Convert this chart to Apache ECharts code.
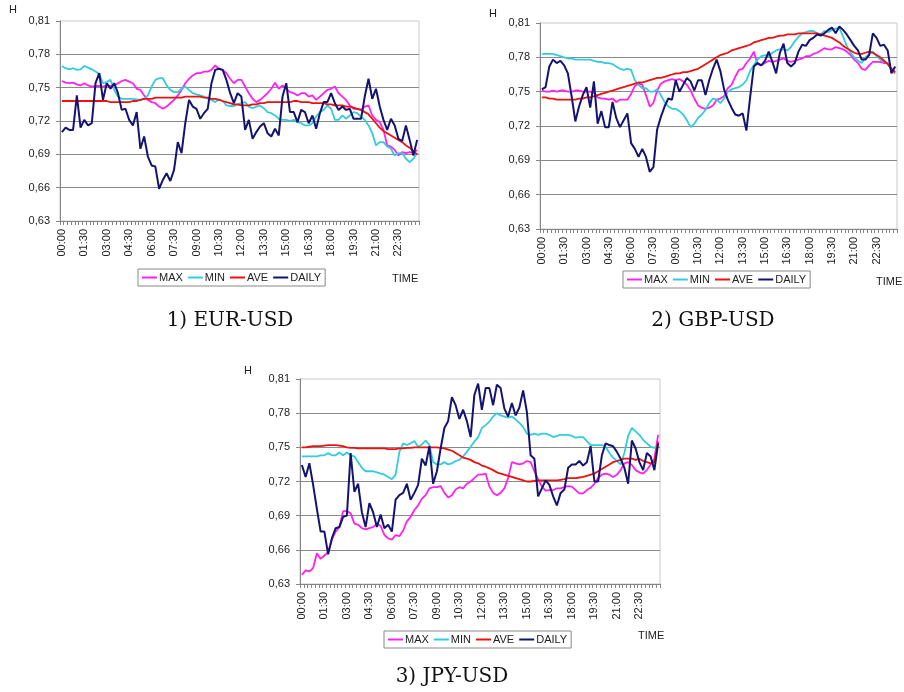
<!DOCTYPE html>
<html>
<head>
<meta charset="utf-8">
<script src="https://cdn.jsdelivr.net/npm/echarts@6/dist/echarts.min.js"></script>
<style>
html,body{margin:0;padding:0;background:#fff;}
#c{width:904px;height:692px;}
</style>
</head>
<body>
<div id="c"></div>
<script>
var times = ['00:00','00:15','00:30','00:45','01:00','01:15','01:30','01:45','02:00','02:15','02:30','02:45',
'03:00','03:15','03:30','03:45','04:00','04:15','04:30','04:45','05:00','05:15','05:30','05:45',
'06:00','06:15','06:30','06:45','07:00','07:15','07:30','07:45','08:00','08:15','08:30','08:45',
'09:00','09:15','09:30','09:45','10:00','10:15','10:30','10:45','11:00','11:15','11:30','11:45',
'12:00','12:15','12:30','12:45','13:00','13:15','13:30','13:45','14:00','14:15','14:30','14:45',
'15:00','15:15','15:30','15:45','16:00','16:15','16:30','16:45','17:00','17:15','17:30','17:45',
'18:00','18:15','18:30','18:45','19:00','19:15','19:30','19:45','20:00','20:15','20:30','20:45',
'21:00','21:15','21:30','21:45','22:00','22:15','22:30','22:45','23:00','23:15','23:30','23:45'];

var yTicks = [0.63, 0.66, 0.69, 0.72, 0.75, 0.78, 0.81];
var seriesNames = ['MAX','MIN','AVE','DAILY'];
var captions = ['1) EUR-USD','2) GBP-USD','3) JPY-USD'];

// 1) EUR-USD
var eurMax = [0.756,0.7545,0.754,0.7545,0.753,0.752,0.754,0.752,0.751,0.7515,
0.7515,0.751,0.752,0.7515,0.752,0.754,0.756,0.757,0.7555,0.754,
0.749,0.748,0.743,0.739,0.737,0.736,0.733,0.731,0.733,0.736,
0.739,0.743,0.748,0.754,0.758,0.761,0.763,0.763,0.7645,0.7645,
0.766,0.770,0.767,0.766,0.763,0.758,0.754,0.757,
0.757,0.751,0.745,0.740,0.737,0.739,0.742,0.745,0.749,0.7545,
0.749,0.752,0.749,0.746,0.745,0.743,0.745,0.745,0.742,0.743,
0.739,0.742,0.745,0.748,0.749,0.751,0.745,0.742,0.739,0.734,
0.731,0.731,0.730,0.733,0.734,0.725,0.721,0.719,0.712,0.698,
0.697,0.694,0.689,0.692,0.691,0.692,0.691,0.694];
var eurMin = [0.7695,0.7675,0.7665,0.7675,0.766,0.7665,0.7695,0.768,0.7665,0.7645,
0.762,0.754,0.755,0.757,0.748,0.742,0.740,0.740,0.740,0.740,
0.7395,0.739,0.740,0.743,0.751,0.757,0.7585,0.7585,0.752,0.748,
0.746,0.746,0.749,0.751,0.748,0.745,0.744,0.743,0.742,0.740,
0.739,0.737,0.7395,0.738,0.734,0.7335,0.7335,0.735,
0.736,0.737,0.733,0.7315,0.733,0.734,0.7315,0.728,0.727,0.725,
0.722,0.721,0.721,0.720,0.721,0.719,0.718,0.716,0.716,0.718,
0.724,0.728,0.730,0.734,0.731,0.721,0.721,0.725,0.722,0.725,
0.728,0.727,0.724,0.721,0.716,0.709,0.698,0.701,0.701,0.697,
0.695,0.689,0.691,0.691,0.686,0.683,0.686,0.691];
var eurAve = [0.738,0.738,0.738,0.738,0.738,0.738,0.738,0.738,0.738,0.738,
0.738,0.738,0.738,0.737,0.737,0.737,0.737,0.737,0.737,0.738,
0.738,0.739,0.740,0.740,0.740,0.741,0.741,0.741,0.741,0.741,
0.741,0.741,0.741,0.742,0.742,0.742,0.742,0.742,0.741,0.741,
0.740,0.740,0.739,0.738,0.737,0.736,0.735,0.735,
0.734,0.734,0.734,0.735,0.735,0.736,0.736,0.737,0.737,0.737,
0.737,0.737,0.737,0.737,0.738,0.738,0.737,0.737,0.737,0.736,
0.736,0.736,0.736,0.735,0.735,0.734,0.734,0.734,0.733,0.733,
0.732,0.731,0.730,0.728,0.726,0.722,0.718,0.714,0.711,0.709,
0.707,0.705,0.703,0.701,0.698,0.696,0.693,0.690];
var eurDaily = [0.710,0.714,0.712,0.712,0.743,0.714,0.721,0.716,0.718,0.754,
0.763,0.739,0.754,0.749,0.754,0.745,0.730,0.731,0.721,0.716,
0.728,0.695,0.706,0.688,0.680,0.679,0.659,0.667,0.673,0.666,
0.676,0.701,0.691,0.718,0.739,0.733,0.731,0.722,0.727,0.731,
0.754,0.766,0.767,0.766,0.757,0.745,0.736,0.745,
0.742,0.712,0.721,0.704,0.710,0.715,0.718,0.709,0.706,0.713,
0.707,0.742,0.754,0.728,0.728,0.719,0.730,0.728,0.718,0.725,
0.713,0.727,0.737,0.737,0.745,0.736,0.730,0.733,0.730,0.731,
0.722,0.722,0.722,0.742,0.758,0.740,0.749,0.733,0.721,0.712,
0.722,0.716,0.704,0.702,0.716,0.703,0.689,0.703];

// 2) GBP-USD
var gbpMax = [0.751,0.750,0.750,0.751,0.750,0.751,0.751,0.750,0.750,0.751,
0.751,0.750,0.750,0.750,0.749,0.745,0.744,0.744,0.743,0.744,
0.741,0.743,0.743,0.743,0.748,0.755,0.757,0.756,0.747,0.737,
0.740,0.751,0.757,0.759,0.760,0.761,0.760,0.761,0.759,0.756,
0.751,0.744,0.738,0.736,0.735,0.736,0.738,0.743,
0.744,0.746,0.753,0.756,0.763,0.769,0.770,0.775,0.779,0.785,
0.774,0.773,0.775,0.777,0.776,0.777,0.778,0.779,0.777,0.776,
0.777,0.778,0.779,0.781,0.781,0.783,0.784,0.786,0.788,0.787,
0.787,0.789,0.788,0.787,0.785,0.782,0.778,0.775,0.770,0.769,
0.773,0.776,0.776,0.776,0.775,0.775,0.769,0.766];
var gbpMin = [0.783,0.783,0.783,0.783,0.782,0.781,0.780,0.779,0.779,0.778,
0.778,0.778,0.778,0.778,0.777,0.776,0.776,0.775,0.775,0.774,
0.772,0.770,0.769,0.770,0.769,0.760,0.756,0.753,0.753,0.750,
0.750,0.752,0.747,0.741,0.737,0.735,0.735,0.733,0.730,0.725,
0.719,0.722,0.727,0.730,0.734,0.740,0.744,0.743,
0.740,0.744,0.750,0.752,0.753,0.754,0.756,0.760,0.768,0.773,
0.778,0.781,0.782,0.781,0.784,0.786,0.787,0.787,0.786,0.789,
0.794,0.798,0.801,0.802,0.803,0.803,0.801,0.800,0.803,0.802,
0.804,0.805,0.806,0.798,0.790,0.784,0.780,0.777,0.775,0.780,
0.783,0.785,0.781,0.778,0.776,0.775,0.769,0.767];
var gbpAve = [0.745,0.745,0.744,0.744,0.743,0.743,0.743,0.743,0.743,0.743,
0.744,0.744,0.745,0.745,0.746,0.747,0.748,0.749,0.750,0.751,
0.752,0.753,0.754,0.755,0.756,0.757,0.758,0.758,0.759,0.760,
0.761,0.762,0.762,0.763,0.764,0.765,0.766,0.766,0.767,0.767,
0.768,0.769,0.770,0.772,0.774,0.776,0.778,0.780,
0.782,0.783,0.784,0.786,0.787,0.788,0.789,0.790,0.791,0.793,
0.794,0.795,0.796,0.797,0.797,0.798,0.799,0.799,0.800,0.800,
0.800,0.801,0.801,0.801,0.801,0.801,0.801,0.800,0.799,0.798,
0.797,0.795,0.793,0.790,0.788,0.786,0.784,0.783,0.783,0.784,
0.785,0.784,0.782,0.780,0.777,0.774,0.770,0.767];
var gbpDaily = [0.752,0.754,0.772,0.778,0.775,0.777,0.773,0.766,0.746,0.724,
0.737,0.747,0.754,0.736,0.759,0.722,0.733,0.719,0.719,0.741,
0.727,0.719,0.725,0.731,0.705,0.700,0.693,0.700,0.693,0.680,
0.684,0.717,0.728,0.737,0.744,0.743,0.760,0.750,0.756,0.762,
0.759,0.751,0.760,0.760,0.747,0.760,0.770,0.778,
0.768,0.752,0.743,0.736,0.730,0.729,0.731,0.716,0.745,0.772,
0.775,0.773,0.777,0.785,0.776,0.766,0.784,0.792,0.775,0.772,
0.775,0.785,0.791,0.790,0.795,0.797,0.800,0.799,0.801,0.804,
0.806,0.801,0.807,0.804,0.800,0.795,0.790,0.786,0.778,0.778,
0.782,0.801,0.797,0.790,0.791,0.786,0.766,0.772];

// 3) JPY-USD
var jpyMax = [0.638,0.642,0.641,0.644,0.657,0.652,0.655,0.658,0.669,0.676,
0.680,0.694,0.694,0.692,0.683,0.682,0.679,0.678,0.679,0.680,
0.683,0.681,0.673,0.670,0.669,0.673,0.672,0.677,0.685,0.689,
0.695,0.699,0.705,0.708,0.714,0.715,0.715,0.716,0.710,0.706,
0.708,0.713,0.715,0.714,0.718,0.720,0.723,0.726,
0.726,0.727,0.7155,0.710,0.708,0.710,0.714,0.723,0.737,0.736,
0.735,0.736,0.738,0.737,0.729,0.722,0.7155,0.712,0.7125,0.7125,
0.714,0.714,0.715,0.716,0.7155,0.7125,0.7095,0.7095,0.7125,0.7145,
0.718,0.723,0.726,0.727,0.726,0.724,0.726,0.730,0.736,0.737,
0.7345,0.730,0.728,0.727,0.730,0.735,0.740,0.761];
var jpyMin = [0.742,0.742,0.742,0.742,0.742,0.743,0.743,0.745,0.743,0.743,
0.7455,0.743,0.7455,0.743,0.742,0.737,0.732,0.729,0.729,0.729,
0.728,0.727,0.726,0.724,0.722,0.726,0.746,0.7535,0.752,0.7535,
0.7555,0.7505,0.7525,0.756,0.752,0.737,0.735,0.735,0.737,0.735,
0.736,0.738,0.739,0.742,0.746,0.7505,0.755,0.759,
0.767,0.7695,0.7725,0.777,0.780,0.778,0.777,0.776,0.777,0.7745,
0.7715,0.768,0.762,0.761,0.762,0.761,0.762,0.762,0.761,0.759,
0.760,0.761,0.761,0.761,0.760,0.7585,0.759,0.759,0.7555,0.752,
0.752,0.752,0.752,0.7505,0.745,0.741,0.738,0.735,0.745,0.760,
0.767,0.764,0.761,0.7565,0.7535,0.7505,0.7495,0.752];
var jpyAve = [0.750,0.750,0.7505,0.751,0.751,0.751,0.7515,0.752,0.752,0.752,
0.7515,0.751,0.750,0.7495,0.7495,0.749,0.749,0.749,0.749,0.749,
0.749,0.749,0.749,0.7485,0.7485,0.7485,0.749,0.749,0.7495,0.7495,
0.750,0.750,0.750,0.750,0.750,0.750,0.750,0.7495,0.749,0.748,
0.747,0.745,0.743,0.741,0.740,0.739,0.737,0.736,
0.734,0.733,0.7315,0.730,0.728,0.727,0.726,0.725,0.724,0.723,
0.722,0.721,0.720,0.720,0.7205,0.721,0.721,0.721,0.721,0.721,
0.721,0.7215,0.722,0.723,0.723,0.723,0.7235,0.724,0.725,0.726,
0.727,0.729,0.731,0.733,0.735,0.737,0.738,0.739,0.740,0.740,
0.740,0.739,0.740,0.738,0.737,0.736,0.737,0.755];
var jpyDaily = [0.7345,0.724,0.736,0.717,0.696,0.676,0.676,0.656,0.670,0.679,
0.680,0.689,0.690,0.745,0.711,0.718,0.693,0.680,0.701,0.693,
0.680,0.691,0.679,0.682,0.676,0.704,0.708,0.710,0.718,0.704,
0.710,0.717,0.740,0.734,0.751,0.718,0.729,0.749,0.767,0.773,
0.794,0.787,0.775,0.783,0.773,0.759,0.796,0.806,
0.783,0.802,0.802,0.787,0.805,0.802,0.784,0.777,0.789,0.778,
0.785,0.800,0.781,0.743,0.740,0.707,0.714,0.721,0.717,0.707,
0.699,0.710,0.713,0.732,0.735,0.735,0.738,0.734,0.737,0.751,
0.720,0.720,0.743,0.7535,0.752,0.751,0.746,0.740,0.732,0.718,
0.756,0.749,0.737,0.730,0.745,0.742,0.730,0.7535];

var panels = [
  {max: eurMax, min: eurMin, ave: eurAve, daily: eurDaily},
  {max: gbpMax, min: gbpMin, ave: gbpAve, daily: gbpDaily},
  {max: jpyMax, min: jpyMin, ave: jpyAve, daily: jpyDaily}
];

var colors = {MAX: '#ff22ee', MIN: '#33ccdd', AVE: '#ee1111', DAILY: '#141470'};
var FONT = 'Liberation Sans, Arial, sans-serif';

// layout
var grids = [
  {left: 60, top: 21, width: 359, height: 200},
  {left: 540, top: 23, width: 357, height: 206},
  {left: 300, top: 379, width: 360, height: 205}
];
var legendPos = [{left: 138, top: 269}, {left: 623, top: 271}, {left: 384, top: 631}];
var hPos = [[9, 4], [489, 8], [244, 365]];
var timePos = [[392, 273], [876, 276], [638, 630]];
var capPos = [[230, 321], [713, 321], [452, 677]];

var option = {
  animation: false,
  backgroundColor: '#ffffff',
  grid: [], xAxis: [], yAxis: [], series: [], legend: [], graphic: []
};

panels.forEach(function (p, k) {
  var g = grids[k];
  option.grid.push({left: g.left, top: g.top, width: g.width, height: g.height,
    show: true, borderColor: '#c9c9c9', borderWidth: 1, backgroundColor: 'transparent'});
  option.xAxis.push({
    type: 'category', gridIndex: k, data: times, boundaryGap: true,
    axisLine: {show: true, lineStyle: {color: '#858585', width: 1}},
    axisTick: {show: true, interval: 0, length: 4, lineStyle: {color: '#858585'}},
    axisLabel: {interval: 5, rotate: 90, fontSize: 11, color: '#222', fontFamily: FONT, margin: 8},
    splitLine: {show: false}
  });
  option.yAxis.push({
    type: 'value', gridIndex: k, min: yTicks[0], max: yTicks[yTicks.length - 1], interval: 0.03,
    axisLine: {show: true, lineStyle: {color: '#858585', width: 1}},
    axisTick: {show: true, length: 4, lineStyle: {color: '#858585'}},
    axisLabel: {fontSize: 11, color: '#222', fontFamily: FONT, margin: 10,
      formatter: function (v) { return v.toFixed(2).replace('.', ','); }},
    splitLine: {show: true, showMaxLine: false, lineStyle: {color: '#8a8a8a', width: 1}}
  });
  var vals = {MAX: p.max, MIN: p.min, AVE: p.ave, DAILY: p.daily};
  seriesNames.forEach(function (nm) {
    option.series.push({
      name: nm, type: 'line', xAxisIndex: k, yAxisIndex: k,
      data: vals[nm], symbol: 'none', smooth: false,
      lineStyle: {color: colors[nm], width: nm === 'DAILY' ? 2 : 1.8},
      itemStyle: {color: colors[nm]},
      z: nm === 'DAILY' ? 5 : (nm === 'AVE' ? 4 : 3)
    });
  });
  option.legend.push({
    left: legendPos[k].left, top: legendPos[k].top, orient: 'horizontal',
    data: seriesNames, icon: 'rect', itemWidth: 15, itemHeight: 2, itemGap: 5,
    borderColor: '#888', borderWidth: 1, padding: [3, 4, 3, 4], selectedMode: false,
    textStyle: {fontSize: 11, color: '#222', fontFamily: FONT, padding: [0, 0, 0, -3]}
  });
  option.graphic.push({type: 'text', left: hPos[k][0], top: hPos[k][1],
    style: {text: 'H', font: '11px ' + FONT, fill: '#222'}});
  option.graphic.push({type: 'text', left: timePos[k][0], top: timePos[k][1],
    style: {text: 'TIME', font: '11px ' + FONT, fill: '#222'}});
  option.graphic.push({type: 'text', x: capPos[k][0], y: capPos[k][1],
    style: {text: captions[k], font: '20px "DejaVu Serif", serif', fill: '#111',
      textAlign: 'center', textVerticalAlign: 'middle'}});
});

var chart = echarts.init(document.getElementById('c'), null, {renderer: 'canvas'});
chart.setOption(option);
</script>
</body>
</html>
